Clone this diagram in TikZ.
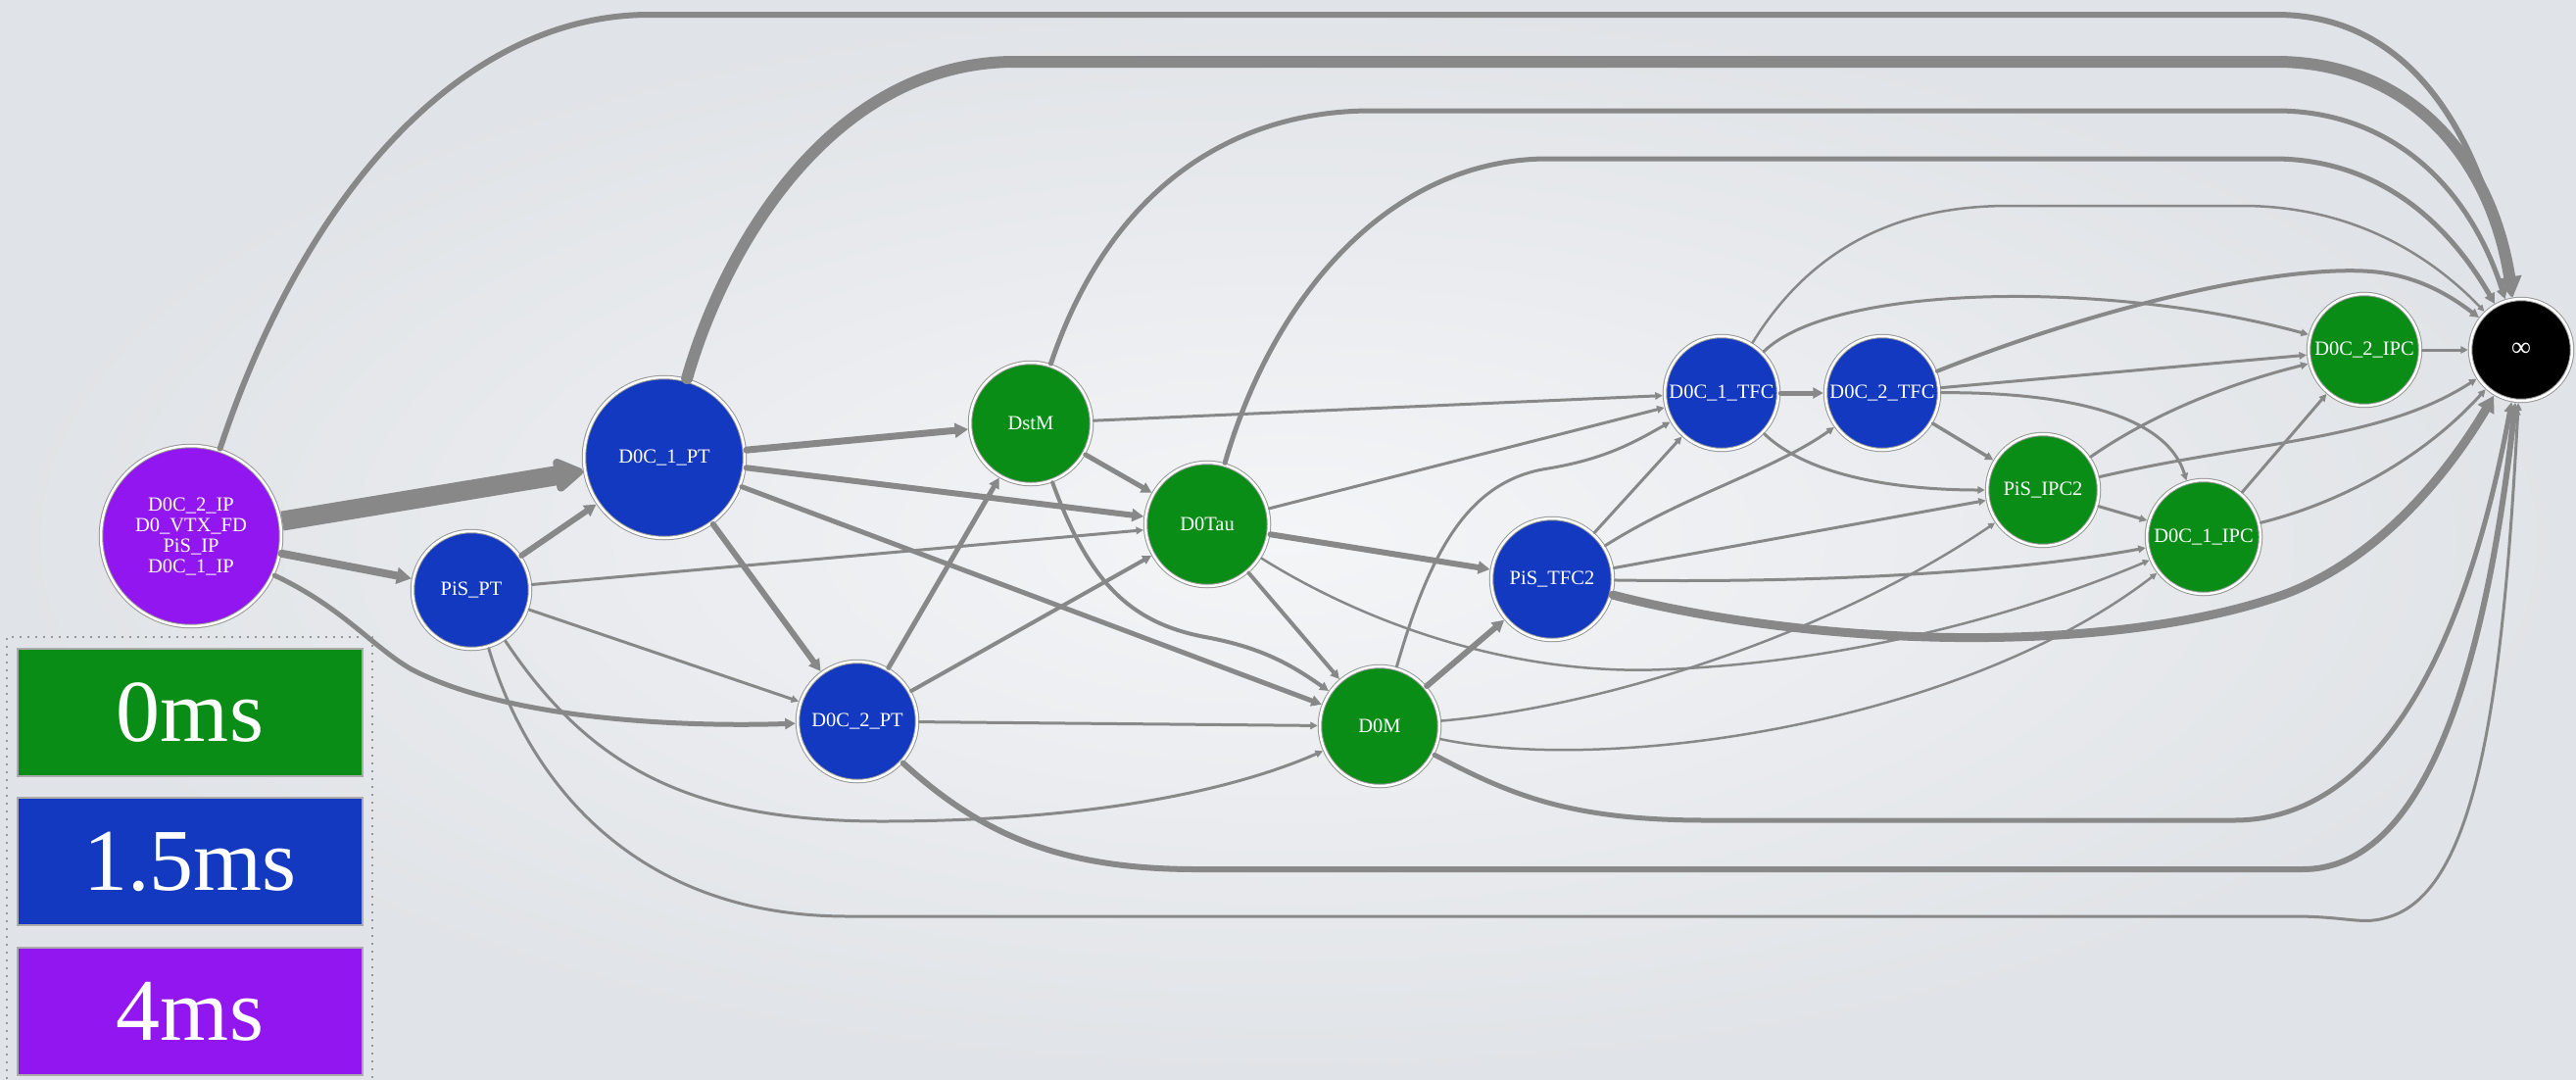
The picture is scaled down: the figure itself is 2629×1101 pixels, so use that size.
\documentclass[tikz,border=0pt]{standalone}
\usepackage{fontspec}
\setmainfont{Liberation Serif}
\usetikzlibrary{arrows.meta}
\definecolor{cgreen}{RGB}{9,141,22}
\definecolor{cblue}{RGB}{18,57,191}
\definecolor{cpurple}{RGB}{145,22,240}
\definecolor{edgegray}{RGB}{136,136,136}
\definecolor{ringgray}{RGB}{150,150,150}
\definecolor{bgin}{RGB}{244,245,247}
\definecolor{bgout}{RGB}{224,227,231}
\newcommand{\nfont}{\fontsize{20.5}{21}\selectfont}
\newcommand{\lfont}{\fontsize{90}{90}\selectfont}
\tikzset{
  nd/.style={circle, draw=ringgray, line width=1pt, double=white, double distance=2.5pt,
    inner sep=0pt, outer sep=2.25pt, text=white, font=\nfont, align=center, minimum size=#1},
  e/.style={draw=edgegray, line width=#1pt, line cap=round,
    -{Triangle[length=3pt 1.5, width=2pt 1.8]}},
  legbox/.style={rectangle, draw=ringgray!80, line width=1.5pt, minimum width=352pt,
    minimum height=130pt, inner sep=0pt, text=white, font=\lfont}
}
\begin{document}
\begin{tikzpicture}[x=1pt, y=-1pt]
\useasboundingbox (0,0) rectangle (2629,1101);
\fill[inner color=bgin, outer color=bgout] (0,0) rectangle (2629,1101);

% legend
\draw[ringgray, line width=1.5pt, dash pattern=on 2pt off 6pt] (7,1101) -- (7,650) -- (380,650) -- (380,1101);
\node[legbox, fill=cgreen] (l0) at (194,727) {0ms};
\node[legbox, fill=cblue] (l1) at (194,879) {1.5ms};
\node[legbox, fill=cpurple] (l4) at (194,1032) {4ms};

% nodes
\node[nd=184pt, fill=cpurple] (ip) at (195,547) {D0C\_2\_IP\\D0\_VTX\_FD\\PiS\_IP\\D0C\_1\_IP};
\node[nd=120pt, fill=cblue] (pispt) at (481,602) {PiS\_PT};
\node[nd=164pt, fill=cblue] (c1pt) at (678,467) {D0C\_1\_PT};
\node[nd=122pt, fill=cblue] (c2pt) at (875,736) {D0C\_2\_PT};
\node[nd=124pt, fill=cgreen] (dstm) at (1052,432) {DstM};
\node[nd=126pt, fill=cgreen] (dtau) at (1232,535) {D0Tau};
\node[nd=122pt, fill=cgreen] (dm) at (1408,741) {D0M};
\node[nd=124pt, fill=cblue] (pistfc) at (1584,591) {PiS\_TFC2};
\node[nd=116pt, fill=cblue] (c1tfc) at (1757,401) {D0C\_1\_TFC};
\node[nd=116pt, fill=cblue] (c2tfc) at (1921,401) {D0C\_2\_TFC};
\node[nd=114pt, fill=cgreen] (pisipc) at (2085,500) {PiS\_IPC2};
\node[nd=116pt, fill=cgreen] (c1ipc) at (2249,548) {D0C\_1\_IPC};
\node[nd=114pt, fill=cgreen] (c2ipc) at (2413,357) {D0C\_2\_IPC};
\node[nd=104pt, fill=black, font=\fontsize{28}{28}\selectfont] (inf) at (2573,357) {∞};

% long arcs over the top
\draw[e=6] (ip) .. controls (310,200) and (470,15) .. (663,15) -- (2323,15) .. controls (2450,15) and (2530,120) .. (inf);
\draw[e=12] (c1pt) .. controls (740,250) and (850,63) .. (1036,63) -- (2323,63) .. controls (2450,63) and (2540,150) .. (inf);
\draw[e=5] (dstm) .. controls (1130,200) and (1250,113) .. (1400,113) -- (2323,113) .. controls (2440,113) and (2520,190) .. (inf);
\draw[e=5] (dtau) .. controls (1300,300) and (1420,162) .. (1580,162) -- (2320,162) .. controls (2430,162) and (2500,230) .. (inf);
\draw[e=2.5] (c1tfc) .. controls (1850,250) and (1940,210) .. (2050,210) -- (2288,210) .. controls (2400,210) and (2480,260) .. (inf);

% long arcs under the bottom
\draw[e=3] (pispt) .. controls (540,800) and (650,935) .. (865,935) -- (2340,935) .. controls (2400,935) and (2410,945) .. (2440,935) .. controls (2530,905) and (2555,700) .. (inf);
\draw[e=6] (c2pt) .. controls (1000,850) and (1080,887) .. (1221,887) -- (2350,887) .. controls (2470,887) and (2535,700) .. (inf);
\draw[e=5] (dm) .. controls (1540,810) and (1600,837) .. (1741,837) -- (2280,837) .. controls (2410,837) and (2510,700) .. (inf);

% curved edges
\draw[e=5] (ip) .. controls (350,620) and (380,660) .. (420,683) .. controls (520,735) and (700,742) .. (c2pt);
\draw[e=3] (pispt) .. controls (600,780) and (700,838) .. (900,838) .. controls (1100,838) and (1250,810) .. (dm);
\draw[e=9] (pistfc) .. controls (1850,660) and (2150,670) .. (2330,607) .. controls (2430,570) and (2500,480) .. (inf);
\draw[e=2.5] (dtau) .. controls (1400,640) and (1550,690) .. (1700,683) .. controls (1900,675) and (2080,620) .. (c1ipc);
\draw[e=2.5] (dm) .. controls (1650,720) and (1880,640) .. (pisipc);
\draw[e=2.5] (dm) .. controls (1640,790) and (2000,740) .. (c1ipc);
\draw[e=3] (dm) .. controls (1460,560) and (1500,490) .. (1580,478) .. controls (1640,468) and (1670,450) .. (c1tfc);
\draw[e=4] (dstm) .. controls (1110,590) and (1150,635) .. (1230,650) .. controls (1290,661) and (1320,680) .. (dm);
\draw[e=3] (pistfc) .. controls (1720,505) and (1810,480) .. (c2tfc);
\draw[e=3] (c1tfc) .. controls (1850,490) and (1950,500) .. (pisipc);
\draw[e=3] (c1tfc) .. controls (1870,290) and (2150,285) .. (c2ipc);
\draw[e=3] (c2tfc) .. controls (2100,400) and (2210,420) .. (c1ipc);
\draw[e=4] (c2tfc) .. controls (2150,310) and (2330,270) .. (2420,277) .. controls (2470,281) and (2505,305) .. (inf);
\draw[e=3] (pisipc) .. controls (2200,420) and (2280,390) .. (c2ipc);
\draw[e=3] (pisipc) .. controls (2300,450) and (2430,450) .. (inf);
\draw[e=3] (c1ipc) .. controls (2400,510) and (2480,460) .. (inf);
\draw[e=3] (pistfc) .. controls (1850,595) and (2050,585) .. (c1ipc);

% straight edges
\draw[draw=edgegray, line width=20pt, -{Triangle[length=3pt 1.5, width=2pt 1.8, round]}] (ip) -- (c1pt);
\draw[e=8] (ip) -- (pispt);
\draw[e=6] (pispt) -- (c1pt);
\draw[e=3] (pispt) -- (dtau);
\draw[e=3] (pispt) -- (c2pt);
\draw[e=7] (c1pt) -- (dstm);
\draw[e=6] (c1pt) -- (dtau);
\draw[e=5] (c1pt) -- (dm);
\draw[e=6] (c1pt) -- (c2pt);
\draw[e=5] (c2pt) -- (dstm);
\draw[e=4] (c2pt) -- (dtau);
\draw[e=3] (c2pt) -- (dm);
\draw[e=3] (dstm) -- (c1tfc);
\draw[e=5] (dstm) -- (dtau);
\draw[e=3] (dtau) -- (c1tfc);
\draw[e=6] (dtau) -- (pistfc);
\draw[e=4] (dtau) -- (dm);
\draw[e=6] (dm) -- (pistfc);
\draw[e=3] (pistfc) -- (c1tfc);
\draw[e=3] (pistfc) -- (pisipc);
\draw[e=5] (c1tfc) -- (c2tfc);
\draw[e=3.5] (c2tfc) -- (pisipc);
\draw[e=3] (c2tfc) -- (c2ipc);
\draw[e=3] (pisipc) -- (c1ipc);
\draw[e=3] (c1ipc) -- (c2ipc);
\draw[e=3] (c2ipc) -- (inf);
\end{tikzpicture}
\end{document}
